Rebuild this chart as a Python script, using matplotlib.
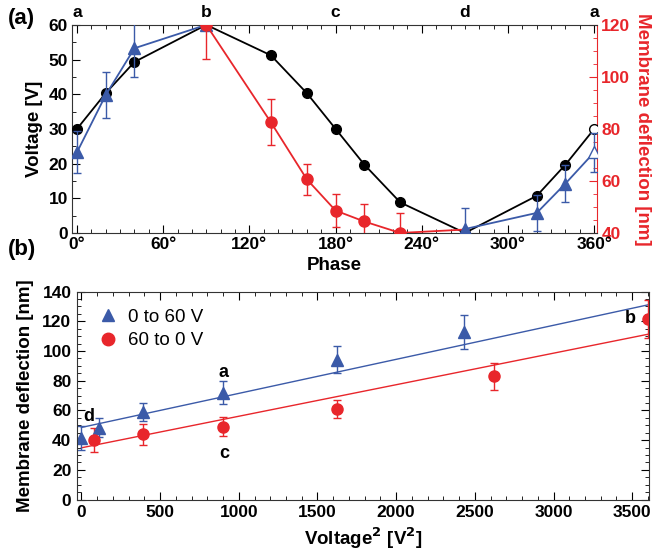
import matplotlib
matplotlib.use("Agg")
import matplotlib.pyplot as plt
from matplotlib.ticker import MultipleLocator
from matplotlib.lines import Line2D
import numpy as np

plt.rcParams['font.family'] = ['Liberation Sans', 'DejaVu Sans']
plt.rcParams['font.weight'] = 'bold'
plt.rcParams['axes.labelweight'] = 'bold'

BLUE = '#3b5aa8'
RED = '#e8262b'

# ---- panel (a) data ----
phase_v = [0, 20, 40, 90, 135, 160, 180, 200, 225, 270, 320, 340, 360]
voltage = [30, 40.3, 49.3, 60, 51.2, 40.3, 30, 19.7, 8.8, 0, 10.7, 19.7, 30]

up_phase = [0, 20, 40, 90]
up_defl = [71, 93, 111, 120]
up_err = [8, 9, 11, 0]
up2_phase = [270, 320, 340, 360]
up2_defl = [41.5, 47.7, 59, 71]
up2_err = [8, 7, 7, 7.5]

down_phase = [90, 135, 160, 180, 200, 225, 270]
down_defl = [120, 82.5, 60.6, 48.6, 44.4, 40, 41.3]
down_err = [13.3, 8.8, 6, 6.4, 6.7, 7.7, 0]

phase_marks = [0, 90, 180, 270, 360]
phase_letters = ['a', 'b', 'c', 'd', 'a']

# ---- panel (b) data ----
up_v2 = [0, 115, 390, 900, 1624, 2430]
up_b = [41.5, 48.3, 59, 72, 94, 112.5]
up_b_err = [8, 6.5, 6, 7.5, 9, 11.5]
down_v2 = [78, 390, 900, 1624, 2622, 3600]
down_b = [40, 44, 49, 61, 83, 121.4]
down_b_err = [8, 7, 6.5, 6, 9, 13]
fit_x = [0, 3608]
up_fit = [48.5, 131.2]
down_fit = [34.8, 111.4]


def bold_ticks(a):
    for lab in a.get_xticklabels() + a.get_yticklabels():
        lab.set_fontweight('bold')


fig = plt.figure(figsize=(6.54, 5.52), dpi=100)

# ===== panel (a) =====
ax = fig.add_axes([0.110, 0.578, 0.803, 0.377])
ax2 = ax.twinx()
ax.set_zorder(ax2.get_zorder() + 1)
ax.patch.set_visible(False)

ax.plot(phase_v, voltage, color='black', lw=1.3, zorder=3)
ax.plot(phase_v[:-1], voltage[:-1], 'o', color='black', ms=7, zorder=4)
ax.plot(phase_v[-1], voltage[-1], 'o', mfc='white', mec='black', ms=7, zorder=4)


# deflection drawn in left-axis units so everything sits on one layer
def to_v(d):
    return [(x - 40) * 60 / 80 for x in d]


def err_v(e):
    return [x * 60 / 80 for x in e]


ax.errorbar(up_phase, to_v(up_defl), yerr=err_v(up_err), color=BLUE, lw=1.3,
            marker='^', ms=8, capsize=3, elinewidth=1, zorder=5)
ax.errorbar(up2_phase[:-1], to_v(up2_defl[:-1]), yerr=err_v(up2_err[:-1]), color=BLUE,
            lw=1.3, marker='^', ms=8, capsize=3, elinewidth=1, zorder=5)
ax.plot(up2_phase[-2:], to_v(up2_defl[-2:]), color=BLUE, lw=1.3, zorder=5)
ax.errorbar(up2_phase[-1], to_v(up2_defl[-1:]), yerr=err_v(up2_err[-1:]), color=BLUE,
            marker='^', mfc='white', mec=BLUE, ms=8, capsize=3, elinewidth=1, zorder=5)
ax.errorbar(down_phase[:-1], to_v(down_defl[:-1]), yerr=err_v(down_err[:-1]), color=RED,
            lw=1.3, marker='o', ms=8, capsize=3, elinewidth=1, zorder=6)
ax.plot(down_phase[-2:], to_v(down_defl[-2:]), color=RED, lw=1.3, zorder=4)

ax.set_xlim(-3.5, 362)
ax.set_ylim(0, 60)
ax2.set_ylim(40, 120)
ax.set_xticks(range(0, 361, 60))
ax.set_xticklabels([f'{p}°' for p in range(0, 361, 60)])
ax.xaxis.set_minor_locator(MultipleLocator(10))
ax.yaxis.set_major_locator(MultipleLocator(10))
ax.yaxis.set_minor_locator(MultipleLocator(5))
ax2.yaxis.set_major_locator(MultipleLocator(20))
ax2.yaxis.set_minor_locator(MultipleLocator(5))
ax.tick_params(which='both', direction='in', top=True, right=False, labelsize=12.5, pad=3)
ax.tick_params(which='major', length=6)
ax.tick_params(which='minor', length=3)
ax2.tick_params(which='both', direction='in', colors=RED, labelsize=12.5, pad=3)
ax2.tick_params(which='major', length=6)
ax2.tick_params(which='minor', length=3)
ax2.spines['right'].set_color(RED)
for s in ['left', 'top', 'bottom']:
    ax2.spines[s].set_visible(False)
ax.spines['right'].set_visible(False)
for s in ['left', 'top', 'bottom']:
    ax.spines[s].set_color('#333333')
bold_ticks(ax)
bold_ticks(ax2)
ax.set_xlabel('Phase', fontsize=13.5)
ax.xaxis.set_label_coords(0.5, -0.115)
ax.set_ylabel('Voltage [V]', fontsize=13.5, labelpad=4)
ax2.set_ylabel('Membrane deflection [nm]', fontsize=13.5, color=RED, rotation=270,
               labelpad=15)
for p, t in zip(phase_marks, phase_letters):
    ax.text(p, 61.5, t, ha='center', va='bottom', fontsize=12.5)
fig.text(0.012, 0.967, '(a)', fontsize=16, va='center')

# ===== panel (b) =====
bx = fig.add_axes([0.1177, 0.0951, 0.875, 0.3768])
bx.plot(fit_x, up_fit, color=BLUE, lw=1)
bx.plot(fit_x, down_fit, color=RED, lw=1)
bx.errorbar(up_v2, up_b, yerr=up_b_err, fmt='^', color=BLUE, ms=8, capsize=3,
            elinewidth=1)
bx.errorbar(down_v2, down_b, yerr=down_b_err, fmt='o', color=RED, ms=8, capsize=3,
            elinewidth=1)
bx.set_xlim(-28, 3608)
bx.set_ylim(0, 140)
bx.xaxis.set_major_locator(MultipleLocator(500))
bx.xaxis.set_minor_locator(MultipleLocator(100))
bx.yaxis.set_major_locator(MultipleLocator(20))
bx.yaxis.set_minor_locator(MultipleLocator(5))
bx.tick_params(which='both', direction='in', top=True, right=True, labelsize=12.5, pad=4)
bx.tick_params(which='major', length=6)
bx.tick_params(which='minor', length=3)
for s in bx.spines.values():
    s.set_color('#333333')
bold_ticks(bx)
bx.set_xlabel('Voltage$^\\mathbf{2}$ [V$^\\mathbf{2}$]', fontsize=13.5, labelpad=4)
bx.set_ylabel('Membrane deflection [nm]', fontsize=13.5, labelpad=6)
bx.text(15, 50, 'd', fontsize=13, ha='left', va='bottom')
bx.text(905, 80, 'a', fontsize=13, ha='center', va='bottom')
bx.text(905, 37, 'c', fontsize=13, ha='center', va='top')
bx.text(3520, 122, 'b', fontsize=13, ha='right', va='center')
handles = [Line2D([], [], ls='none', marker='^', color=BLUE, ms=9),
           Line2D([], [], ls='none', marker='o', color=RED, ms=9)]
bx.legend(handles, ['0 to 60 V', '60 to 0 V'], loc='upper left', frameon=False,
          handletextpad=0.3, handlelength=1.5, borderaxespad=0.5, labelspacing=0.35,
          prop={'weight': 'normal', 'size': 13.5})
fig.text(0.012, 0.548, '(b)', fontsize=16, va='center')

fig.savefig('out.png', dpi=100)
